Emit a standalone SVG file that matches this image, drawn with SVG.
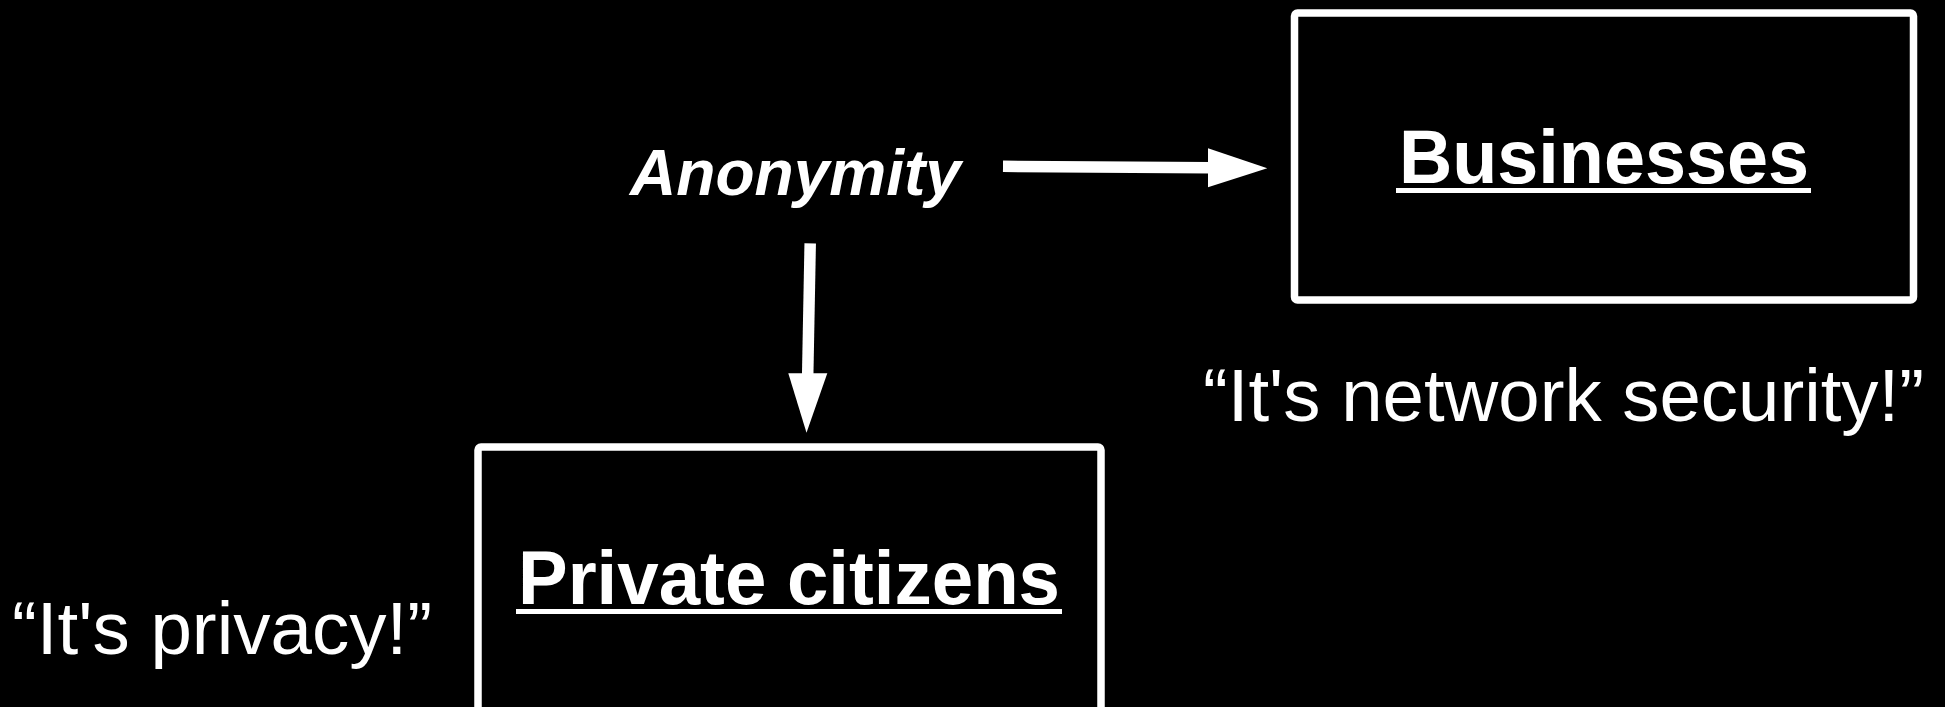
<svg xmlns="http://www.w3.org/2000/svg" width="1945" height="707" viewBox="0 0 1945 707">
<style>
.box{fill:#000;stroke:#fff;stroke-width:7.5}
.title{font-family:"Liberation Sans",Arial,sans-serif;font-weight:bold;font-size:76px;fill:#fff}
.quote{font-family:"Liberation Sans",Arial,sans-serif;font-size:74px;fill:#fff}
.conn{stroke:#fff;stroke-width:11.5;fill:none}
.head{fill:#fff}
</style>
<rect x="0" y="0" width="1945" height="707" fill="#000"/>
<g id="anonymity">
<text x="630" y="195" font-family="Liberation Sans, Arial, sans-serif" font-weight="bold" font-style="italic" font-size="64" fill="#fff" textLength="331" lengthAdjust="spacingAndGlyphs">Anonymity</text>
</g>
<g id="businesses">
<rect class="box" x="1294.5" y="13" width="619" height="287" rx="3"/>
<text class="title" x="1399" y="183" textLength="410" lengthAdjust="spacingAndGlyphs">Businesses</text>
<rect x="1396" y="188" width="415" height="5" fill="#fff"/>
</g>
<g id="private-citizens">
<rect class="box" x="478" y="447" width="623" height="300" rx="3"/>
<text class="title" x="518" y="604" textLength="542" lengthAdjust="spacingAndGlyphs">Private citizens</text>
<rect x="516" y="609" width="546" height="5" fill="#fff"/>
</g>
<g id="quote-network">
<text class="quote" x="1203" y="421" textLength="721" lengthAdjust="spacingAndGlyphs">“It's network security!”</text>
</g>
<g id="quote-privacy">
<text class="quote" x="12" y="654" textLength="420" lengthAdjust="spacingAndGlyphs">“It's privacy!”</text>
</g>
<g id="connectors">
<line class="conn" x1="1003" y1="166.3" x2="1210" y2="167.8"/>
<polygon class="head" points="1208,148.3 1267.3,168.3 1208,187.3"/>
<line class="conn" x1="810.2" y1="243.3" x2="807.7" y2="375"/>
<polygon class="head" points="788.3,373.3 827.3,373.3 806.5,432.7"/>
</g>
</svg>
